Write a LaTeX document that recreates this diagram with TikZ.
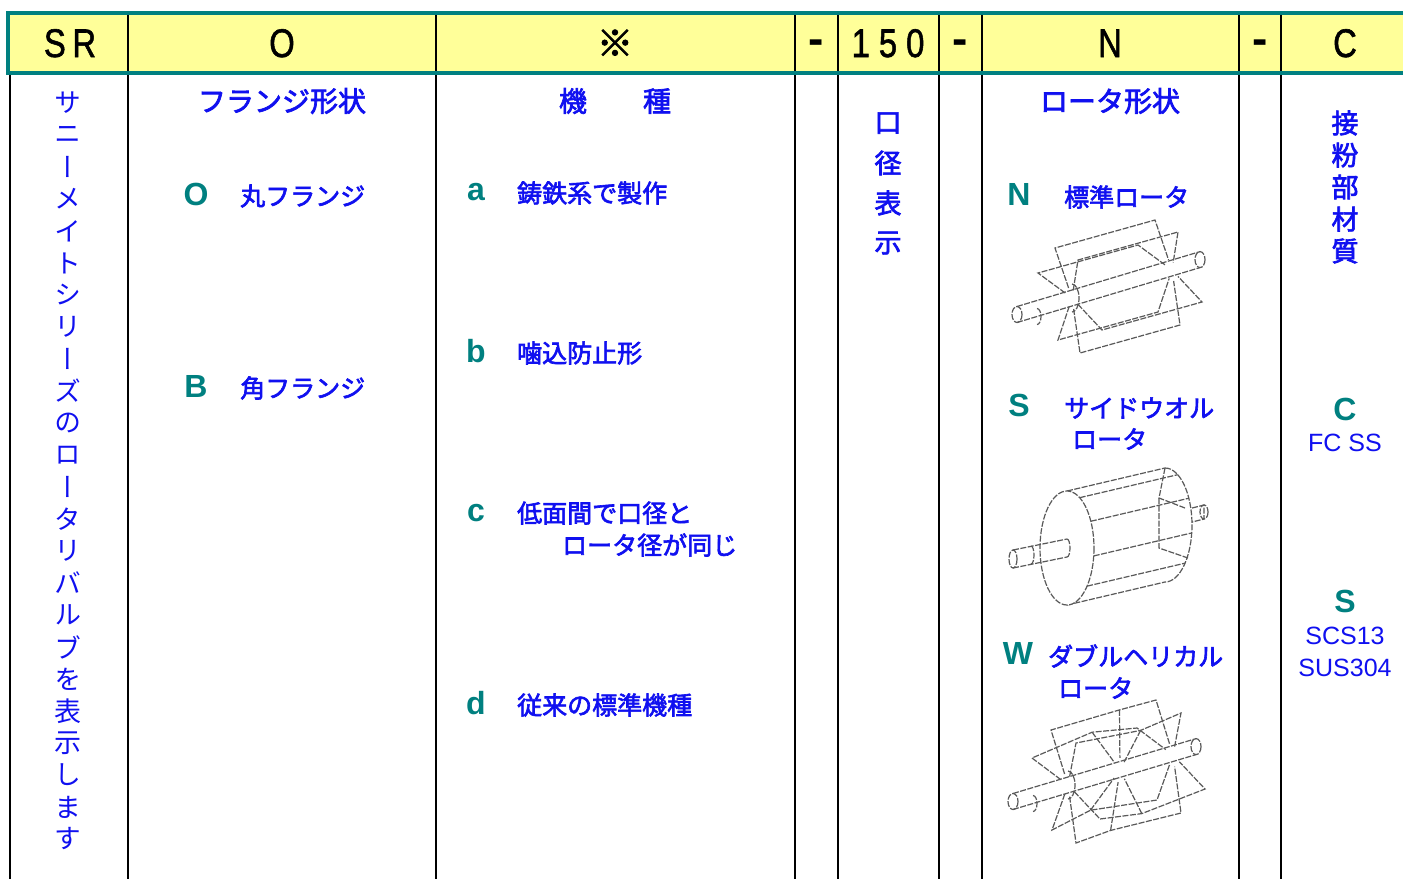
\documentclass[tikz,border=0pt]{standalone}
\usepackage{fontspec}
\setmainfont{Liberation Sans}
\newfontfamily\jp{Noto Sans CJK JP}[FakeBold=2.5]
\newfontfamily\jpv{Noto Sans CJK JP}[RawFeature=+vert]
\newfontfamily\hfont{Liberation Sans}[FakeBold=1.5]
\definecolor{tealc}{RGB}{0,128,128}
\definecolor{hdrfill}{RGB}{255,255,153}
\definecolor{jblue}{RGB}{16,16,240}
\newcommand\hnarrow[1]{\scalebox{0.82}[1]{#1}}
\tikzset{
  vline/.style={line width=2pt, black},
  hdrtxt/.style={font=\hfont\fontsize{40}{44}\selectfont, inner sep=0pt, text=black, anchor=base},
  hdash/.style={font=\bfseries\fontsize{46}{50}\selectfont, inner sep=0pt, text=black, anchor=base},
  jtxt/.style={font=\jp\fontsize{25}{30}\selectfont, text=jblue, inner sep=0pt, anchor=west},
  jtitle/.style={font=\jp\fontsize{28}{32}\selectfont, text=jblue, inner sep=0pt},
  jvert/.style={font=\jpv\fontsize{27}{32}\selectfont, text=jblue, inner sep=0pt},
  jvertb/.style={font=\jp\fontsize{27}{32}\selectfont, text=jblue, inner sep=0pt},
  keylet/.style={font=\bfseries\fontsize{32}{36}\selectfont, text=tealc, inner sep=0pt},
  matlbl/.style={font=\fontsize{25}{28}\selectfont, text=jblue, inner sep=0pt},
  rl/.style={draw=black!65, line width=1.2pt, dash pattern=on 6pt off 1.5pt},
  shaftparts/.pic={
    \draw[rl] (-55,8.5) -- (128,-46.4);
    \draw[rl] (-55,24.5) -- (128,-30.4);
    \draw[rl] (-55,16.5) ellipse [x radius=5, y radius=8];
    \draw[rl] (-35,10.5) arc [start angle=-90, end angle=90, x radius=4, y radius=8];
    \draw[rl] (128,-38.4) ellipse [x radius=5, y radius=8];
    \draw[rl] (0,-14) arc [start angle=-90, end angle=90, x radius=7, y radius=14];
  },
  rotorA/.pic={
    \pic {shaftparts};
    \foreach \rx/\ry in {-17/-50, 6/-38, -34/-25, -14/42, 8/55, 30/32} {
      \draw[rl] (0.2*\rx,0.2*\ry) -- (\rx,\ry) -- (100+\rx,-28+\ry) -- (100+0.2*\rx,-28+0.2*\ry);
    }
  },
  rotorW/.pic={
    \pic {shaftparts};
    \foreach \rx/\ry in {-17/-55, 8/-42, -36/-27, -16/45, 8/58, 32/34} {
      \pgfmathsetmacro\sx{\rx-0.3*\ry}
      \pgfmathsetmacro\sy{\ry+0.3*\rx}
      \draw[rl] (0.2*\rx,0.2*\ry) -- (\rx,\ry) -- (52+\sx,-15+\sy) -- (105+\rx,-30+\ry) -- (105+0.2*\rx,-30+0.2*\ry);
      \draw[rl] (52+\sx,-15+\sy) -- (52+0.2*\sx,-15+0.2*\sy);
    }
  },
  rotorS/.pic={
    \draw[rl] (0,-57) -- (98,-80);
    \draw[rl] (0,57) -- (98,34);
    \draw[rl] (98,-80) arc [start angle=-90, end angle=90, x radius=27, y radius=57];
    \draw[rl] (125,-40) -- (137,-43) -- (137,-29) -- (125,-26);
    \draw[rl] (137,-36) ellipse [x radius=4, y radius=7];
    \foreach \p in {62,28,-8,-42} {
      \draw[rl] ({27*cos(\p)},{-57*sin(\p)}) -- ({98+27*cos(\p)},{-23-57*sin(\p)});
    }
    \draw[rl] (98,-80) -- (92,-50) -- (118,-40);
    \draw[rl] (92,-50) -- (92,0) -- (121,10);
    \draw[rl, fill=white] (0,0) ellipse [x radius=27, y radius=57];
    \draw[rl] (-54,2) -- (0,-9);
    \draw[rl] (-54,20) -- (0,9);
    \draw[rl] (0,-9) arc [start angle=-90, end angle=90, x radius=3, y radius=9];
    \draw[rl] (-54,11) ellipse [x radius=4, y radius=9];
    \draw[rl] (-36,-2) arc [start angle=-90, end angle=90, x radius=3, y radius=9];
  }
}
\begin{document}
\begin{tikzpicture}[x=1pt, y=-1pt]
\clip (0,0) rectangle (1403,879);
\fill[white] (0,0) rectangle (1403,879);
% header
\fill[hdrfill] (8,13) rectangle (1420,73);
\foreach \x in {128,436,795,838,939,982,1239,1281} {
  \draw[vline] (\x,13) -- (\x,879);
}
\draw[vline] (10,73) -- (10,879);
\draw[tealc, line width=4.5pt] (8,13) rectangle (1420,73);
% header texts
\node[hdrtxt] (hSR) at (70,57) {\hnarrow{S\kern8pt R}};
\node[hdrtxt] (hO) at (282,57) {\hnarrow{O}};
\node[hdrtxt, font=\jp\fontsize{36}{40}\selectfont, anchor=center] (hX) at (615,43) {※};
\node[hdash] (hd1) at (816,54) {-};
\node[hdrtxt] (h150) at (888,57) {\hnarrow{1\kern11pt 5\kern11pt 0}};
\node[hdash] (hd2) at (960,54) {-};
\node[hdrtxt] (hN) at (1110,57) {\hnarrow{N}};
\node[hdash] (hd3) at (1260,54) {-};
\node[hdrtxt] (hC) at (1345,57) {\hnarrow{C}};
% column 1 vertical text
\foreach \c [count=\i from 0] in {サ,ニ,ー,メ,イ,ト,シ,リ,ー,ズ,の,ロ,ー,タ,リ,バ,ル,ブ,を,表,示,し,ま,す} {
  \node[jvert] (v\i) at (68,103+32*\i) {\c};
}
% titles
\node[jtitle] (tF) at (282,101) {フランジ形状};
\node[jtitle] (tK) at (615,101) {機　　種};
\node[jtitle] (tR) at (1110,101) {ロータ形状};
% flange
\node[keylet] (kO) at (196,194) {O};
\node[jtxt] (xO) at (240,196) {丸フランジ};
\node[keylet] (kB) at (196,386) {B};
\node[jtxt] (xB) at (240,388) {角フランジ};
% type
\node[keylet] (ka) at (476,192) {a};
\node[jtxt] (xa) at (517,193) {鋳鉄系で製作};
\node[keylet] (kb) at (476,351) {b};
\node[jtxt] (xb) at (517,353) {噛込防止形};
\node[keylet] (kc) at (476,513) {c};
\node[jtxt] (xc1) at (517,513) {低面間で口径と};
\node[jtxt] (xc2) at (562,545) {ロータ径が同じ};
\node[keylet] (kd) at (476,703) {d};
\node[jtxt] (xd) at (517,705) {従来の標準機種};
% bore
\foreach \c [count=\i from 0] in {口,径,表,示} {
  \node[jvertb] (b\i) at (888,123+40*\i) {\c};
}
% rotor
\node[keylet] (kN) at (1019,194) {N};
\node[jtxt] (xN) at (1064,197) {標準ロータ};
\pic at (1072,298) {rotorA};
\node[keylet] (kS) at (1019,405) {S};
\node[jtxt] (xS1) at (1064,408) {サイドウオル};
\node[jtxt] (xS2) at (1072,439) {ロータ};
\pic at (1067,548) {rotorS};
\node[keylet] (kW) at (1018,653) {W};
\node[jtxt] (xW1) at (1048,656) {ダブルヘリカル};
\node[jtxt] (xW2) at (1058,688) {ロータ};
\pic at (1068,785) {rotorW};
% material
\foreach \c [count=\i from 0] in {接,粉,部,材,質} {
  \node[jvertb] (m\i) at (1345,123+32*\i) {\c};
}
\node[keylet] (kC) at (1345,409) {C};
\node[matlbl] (mC) at (1345,443) {FC SS};
\node[keylet] (kS2) at (1345,601) {S};
\node[matlbl] (mS1) at (1345,636) {SCS13};
\node[matlbl] (mS2) at (1345,668) {SUS304};
\end{tikzpicture}
\end{document}
